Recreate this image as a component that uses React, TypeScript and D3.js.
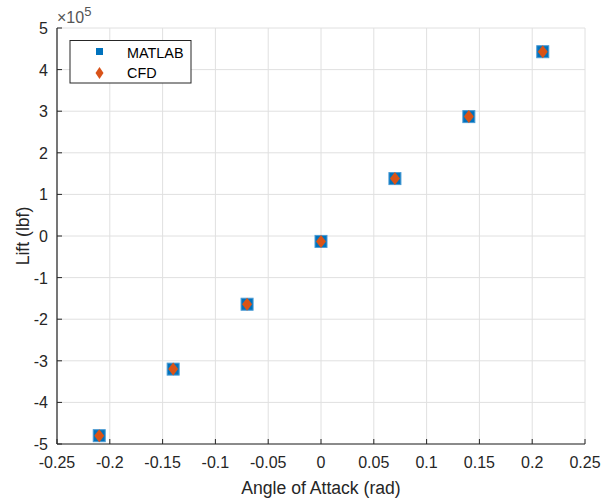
import React from "react";
import * as d3 from "d3";

// Angle of attack (rad) and lift (units of 1e5 lbf)
const angles = [-0.21, -0.14, -0.07, 0, 0.07, 0.14, 0.21];
const liftMatlab = [-4.8, -3.2, -1.64, -0.13, 1.38, 2.87, 4.43];
const liftCfd = [-4.8, -3.2, -1.64, -0.13, 1.38, 2.87, 4.43];
const xTicks = [-0.25, -0.2, -0.15, -0.1, -0.05, 0, 0.05, 0.1, 0.15, 0.2, 0.25];
const yTicks = [-5, -4, -3, -2, -1, 0, 1, 2, 3, 4, 5];

const W = 604;
const H = 504;
const M = { left: 57, right: 585, top: 28, bottom: 444 };
const BLUE = "#0072BD";
const ORANGE = "#D95319";
const INK = "#262626";
const FONT = "'Liberation Sans', Arial, Helvetica, sans-serif";
const TICK_FS = 16;

function fmt(v: number): string {
  if (Math.abs(v) < 1e-9) return "0";
  return String(+v.toFixed(2));
}

export default function App() {
  const x = d3.scaleLinear().domain([-0.25, 0.25]).range([M.left, M.right]);
  const y = d3.scaleLinear().domain([-5, 5]).range([M.bottom, M.top]);
  const sq = 12;
  const diamond = (cx: number, cy: number, w = 5, h = 6.5) =>
    `M${cx},${cy - h}L${cx + w},${cy}L${cx},${cy + h}L${cx - w},${cy}Z`;

  return (
    <svg width={W} height={H} style={{ position: "absolute", left: 0, top: 0, background: "#fff" }}>
      <defs>
        <filter id="soft" x="-30%" y="-30%" width="160%" height="160%">
          <feGaussianBlur stdDeviation="0.6" />
        </filter>
      </defs>
      {/* grid */}
      {xTicks.map((t) => (
        <line key={"gx" + t} x1={x(t)} x2={x(t)} y1={M.top} y2={M.bottom} stroke="#e0e0e0" strokeWidth={1} />
      ))}
      {yTicks.map((t) => (
        <line key={"gy" + t} x1={M.left} x2={M.right} y1={y(t)} y2={y(t)} stroke="#e0e0e0" strokeWidth={1} />
      ))}
      {/* axes */}
      <line x1={M.left} x2={M.right} y1={M.bottom} y2={M.bottom} stroke={INK} strokeWidth={1.2} />
      <line x1={M.left} x2={M.left} y1={M.top} y2={M.bottom} stroke={INK} strokeWidth={1.2} />
      {xTicks.map((t) => (
        <g key={"xt" + t}>
          <line x1={x(t)} x2={x(t)} y1={M.bottom} y2={M.bottom - 5} stroke={INK} />
          <text x={x(t)} y={M.bottom + 24} textAnchor="middle" fontSize={TICK_FS} fill={INK} fontFamily={FONT}>
            {fmt(t)}
          </text>
        </g>
      ))}
      {yTicks.map((t) => (
        <g key={"yt" + t}>
          <line x1={M.left} x2={M.left + 5} y1={y(t)} y2={y(t)} stroke={INK} />
          <text x={M.left - 9} y={y(t) + 6} textAnchor="end" fontSize={TICK_FS} fill={INK} fontFamily={FONT}>
            {fmt(t)}
          </text>
        </g>
      ))}
      {/* exponent */}
      <text x={M.left} y={23} fontSize={TICK_FS} fill="#555" fontFamily={FONT}>
        ×10<tspan dy={-7} fontSize={13}>5</tspan>
      </text>
      {/* axis labels */}
      <text x={(M.left + M.right) / 2} y={494} textAnchor="middle" fontSize={17.6} fill={INK} fontFamily={FONT}>
        Angle of Attack (rad)
      </text>
      <text
        transform={`translate(29,${(M.top + M.bottom) / 2}) rotate(-90)`}
        textAnchor="middle"
        fontSize={17.6}
        fill={INK}
        fontFamily={FONT}
      >
        Lift (lbf)
      </text>
      {/* MATLAB series */}
      {angles.map((a, i) => (
        <rect
          key={"m" + i}
          x={x(a) - sq / 2}
          y={y(liftMatlab[i]) - sq / 2}
          width={sq}
          height={sq}
          fill={BLUE}
          stroke="#4a9bd4"
          strokeWidth={1}
          filter="url(#soft)"
        />
      ))}
      {/* CFD series */}
      {angles.map((a, i) => (
        <path key={"c" + i} d={diamond(x(a), y(liftCfd[i]))} fill={ORANGE} filter="url(#soft)" />
      ))}
      {/* legend */}
      <rect x={70} y={40.5} width={121} height={42.5} fill="#fff" stroke={INK} strokeWidth={1} />
      <rect x={96} y={48} width={7} height={7} fill={BLUE} />
      <path d={diamond(99.5, 73, 4, 6)} fill={ORANGE} />
      <text x={127} y={58} fontSize={14.4} fill="#000" fontFamily={FONT}>
        MATLAB
      </text>
      <text x={127} y={78} fontSize={14.4} fill="#000" fontFamily={FONT}>
        CFD
      </text>
    </svg>
  );
}
